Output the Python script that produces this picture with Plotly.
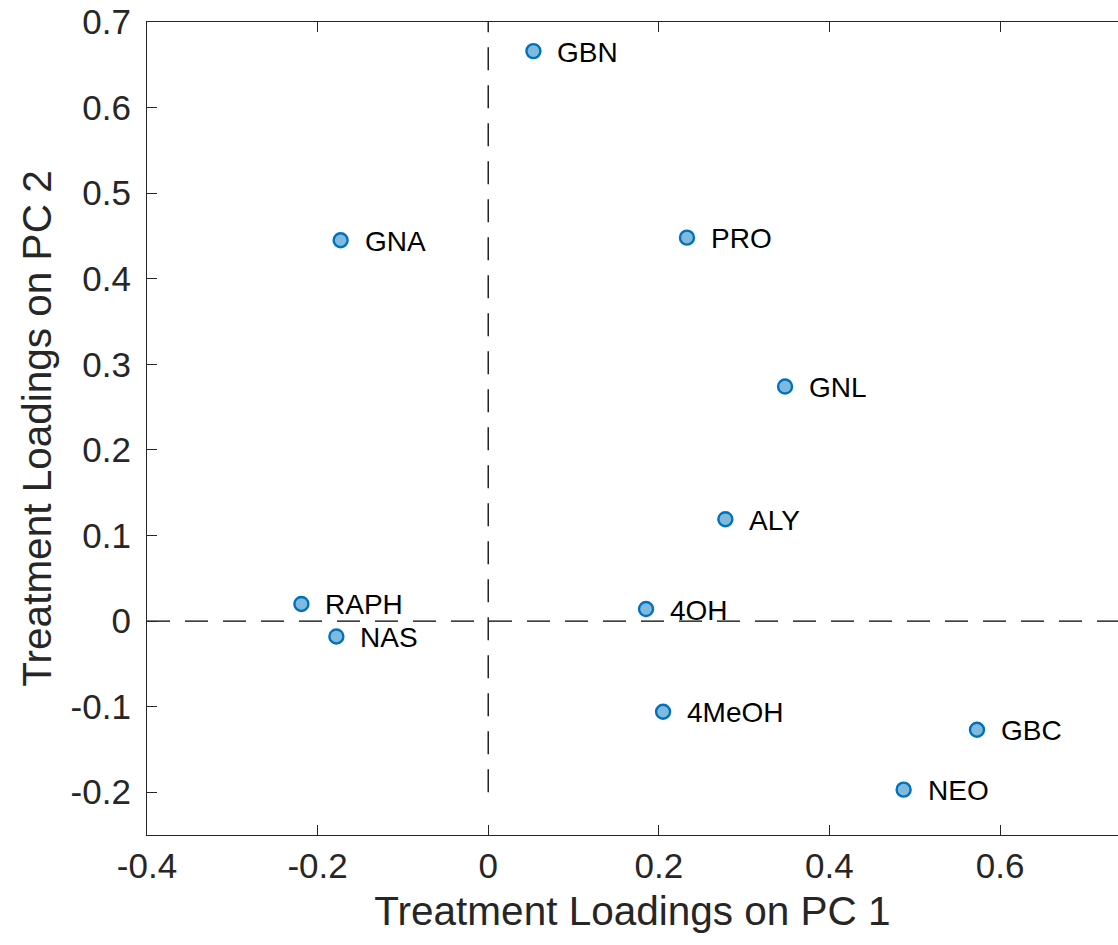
import plotly.graph_objects as go

# Treatment loadings on the first two principal components
treatments = ["GBN", "GNA", "PRO", "GNL", "ALY", "RAPH", "NAS", "4OH", "4MeOH", "GBC", "NEO"]
pc1 = [0.053, -0.173, 0.233, 0.348, 0.278, -0.219, -0.178, 0.185, 0.205, 0.573, 0.487]
pc2 = [0.666, 0.445, 0.448, 0.274, 0.119, 0.020, -0.018, 0.014, -0.106, -0.127, -0.197]

x_range = [-0.4, 0.7383]
y_range = [-0.25, 0.7]
x_ticks = [-0.4, -0.2, 0, 0.2, 0.4, 0.6]
y_ticks = [-0.2, -0.1, 0, 0.1, 0.2, 0.3, 0.4, 0.5, 0.6, 0.7]

# reference lines through the origin
vline_y = [-0.2, 0.7]
hline_x = [-0.4, 0.8]

AXIS_COLOR = "#262626"
FONT = "Liberation Sans, Arial, Helvetica, sans-serif"

fig = go.Figure()

fig.add_trace(go.Scatter(
    x=[0, 0], y=vline_y, mode="lines",
    line=dict(color="black", width=1.3, dash="23px,15px"),
    hoverinfo="skip", showlegend=False,
))
fig.add_trace(go.Scatter(
    x=hline_x, y=[0, 0], mode="lines",
    line=dict(color="black", width=1.3, dash="23px,15px"),
    hoverinfo="skip", showlegend=False,
))

fig.add_trace(go.Scatter(
    x=pc1, y=pc2, mode="markers",
    marker=dict(size=14, color="#80B9DE", line=dict(color="#0072BD", width=2.4)),
    showlegend=False, cliponaxis=False,
))

for name, xv, yv in zip(treatments, pc1, pc2):
    fig.add_annotation(
        x=xv, y=yv, text=name, showarrow=False,
        xanchor="left", yanchor="middle", xshift=22, yshift=-1,
        font=dict(family=FONT, size=28, color="black"),
    )

fig.update_layout(
    width=1118, height=945,
    margin=dict(l=147, r=0, t=22, b=110),
    paper_bgcolor="white", plot_bgcolor="white",
    font=dict(family=FONT, color=AXIS_COLOR),
    xaxis=dict(
        range=x_range, tickvals=x_ticks,
        ticktext=["-0.4", "-0.2", "0", "0.2", "0.4", "0.6"],
        ticks="inside", ticklen=10, tickwidth=1.3, tickcolor=AXIS_COLOR,
        showline=True, linecolor=AXIS_COLOR, linewidth=1.3, mirror="ticks",
        showgrid=False, zeroline=False,
        tickfont=dict(family=FONT, size=35, color=AXIS_COLOR),
        title=dict(text="Treatment Loadings on PC 1", standoff=12,
                   font=dict(family=FONT, size=40.5, color=AXIS_COLOR)),
    ),
    yaxis=dict(
        range=y_range, tickvals=y_ticks,
        ticktext=["-0.2", "-0.1", "0", "0.1", "0.2", "0.3", "0.4", "0.5", "0.6", "0.7"],
        ticks="inside", ticklen=10, tickwidth=1.3, tickcolor=AXIS_COLOR,
        showline=True, linecolor=AXIS_COLOR, linewidth=1.3, mirror=False,
        showgrid=False, zeroline=False, ticklabelstandoff=8,
        tickfont=dict(family=FONT, size=35, color=AXIS_COLOR),
        title=dict(text="Treatment Loadings on PC 2", standoff=6,
                   font=dict(family=FONT, size=40.5, color=AXIS_COLOR)),
    ),
)

fig.write_html("out.html")
